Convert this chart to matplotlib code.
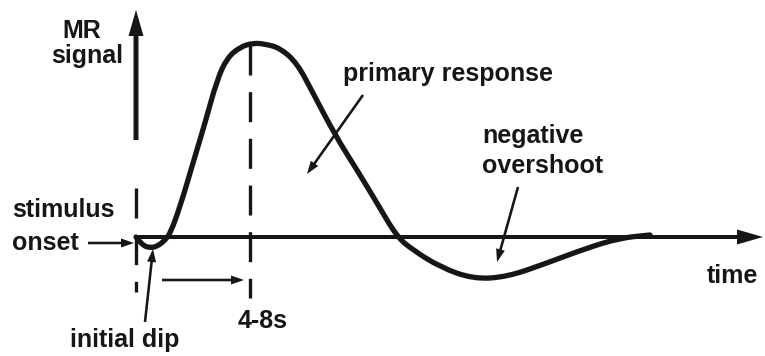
import numpy as np
import matplotlib
matplotlib.use("Agg")
import matplotlib.pyplot as plt
from matplotlib.path import Path
from matplotlib.patches import PathPatch

# BOLD response sketch, coordinates in pixels (y grows downward)
curve_x = [136, 142, 150, 158, 165, 170, 180, 193, 205, 217, 227, 240, 253,
           265, 280, 297, 313, 335, 357, 377, 397, 413, 440, 473, 507, 547,
           587, 620, 650]
curve_y = [237, 245, 248, 246, 240, 234, 207, 163, 123, 80, 58, 47, 43,
           44, 48, 63, 93, 135, 170, 203, 237, 250, 267, 279, 277, 263,
           248, 238, 235]

baseline_y = 237
onset_x = 136
peak_x = 250

ink = "#161616"
font = dict(family=["Liberation Sans", "DejaVu Sans"], weight="bold",
            size=18, color=ink, va="baseline")

fig = plt.figure(figsize=(7.65, 3.56), dpi=100)
ax = fig.add_axes([0, 0, 1, 1])
ax.set_xlim(0, 765)
ax.set_ylim(356, 0)
ax.axis("off")


def arrow(x0, y0, x1, y1, w=2.6, hw=9, hl=13):
    ax.arrow(x0, y0, x1 - x0, y1 - y0, width=w, head_width=hw,
             head_length=hl, length_includes_head=True, color=ink, lw=0)


def smooth_path(xs, ys):
    # quadratic bezier through the midpoints, sample points as controls
    pts = np.column_stack([xs, ys]).astype(float)
    verts = [pts[0]]
    codes = [Path.MOVETO]
    for i in range(1, len(pts) - 1):
        mid = (pts[i] + pts[i + 1]) / 2
        verts += [pts[i], mid]
        codes += [Path.CURVE3, Path.CURVE3]
    verts.append(pts[-1])
    codes.append(Path.LINETO)
    return Path(verts, codes)


# axes of the sketch
arrow(onset_x, 140, onset_x, 10, w=5, hw=15, hl=26)
arrow(onset_x, baseline_y, 763, baseline_y, w=4, hw=15, hl=26)

# dashed markers at onset and peak
ax.plot([onset_x, onset_x], [188, 292], color=ink, lw=2.4,
        linestyle=(0, (9, 5)))
ax.plot([peak_x, peak_x], [45, 298], color=ink, lw=2.4,
        linestyle=(0, (9, 5)))

# the response curve
ax.add_patch(PathPatch(smooth_path(curve_x, curve_y), fill=False,
                       edgecolor=ink, lw=3.8, joinstyle="round",
                       capstyle="round"))

# pointer arrows
arrow(88, 243, 134, 243)
arrow(162, 280, 244, 280)
arrow(145, 322, 153, 249)
arrow(363, 95, 307, 174)
arrow(518, 187, 497, 262)

# labels
ax.text(82, 38, "MR", ha="center", **font)
ax.text(87, 63, "signal", ha="center", **font)
ax.text(12, 217, "stimulus", ha="left", **font)
ax.text(12, 250, "onset", ha="left", **font)
ax.text(343, 81, "primary response", ha="left", **font)
ax.text(482, 143, "negative", ha="left", **font)
ax.text(482, 173, "overshoot", ha="left", **font)
ax.text(707, 283, "time", ha="left", **font)
ax.text(238, 328, "4-8s", ha="left", **font)
ax.text(70, 347, "initial dip", ha="left", **font)

fig.savefig("out.png", dpi=100, facecolor="white")
